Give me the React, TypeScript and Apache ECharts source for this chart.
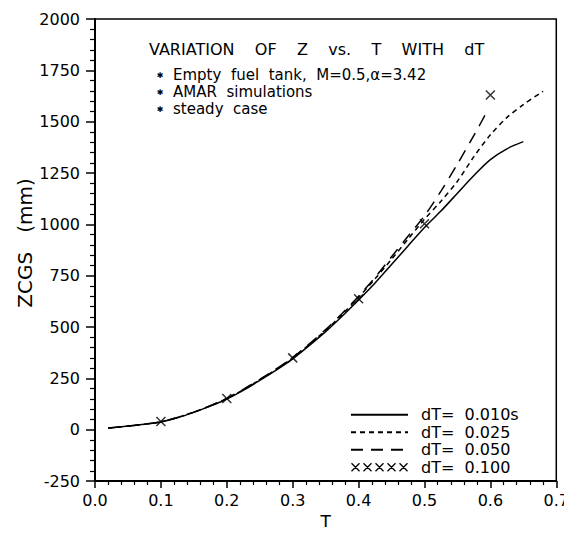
import React, { useEffect, useRef } from "react";
import * as echarts from "echarts";

// dT = 0.010 s (solid)
const solidT = [0.02, 0.05, 0.075, 0.1, 0.125, 0.15, 0.175, 0.2, 0.225, 0.25, 0.275, 0.3, 0.325, 0.35, 0.375, 0.4, 0.425, 0.45, 0.475, 0.5, 0.525, 0.55, 0.575, 0.6, 0.625, 0.65];
const solidZ = [8, 18, 27, 38, 58, 85, 115, 150, 192, 240, 290, 345, 410, 478, 553, 632, 715, 805, 895, 985, 1065, 1152, 1238, 1315, 1368, 1403];

// dT = 0.025 (short dashes)
const dt025T = [0.02, 0.05, 0.1, 0.15, 0.2, 0.25, 0.3, 0.35, 0.375, 0.4, 0.425, 0.45, 0.475, 0.5, 0.525, 0.55, 0.575, 0.6, 0.625, 0.65, 0.68];
const dt025Z = [8, 18, 39, 86, 152, 243, 350, 484, 562, 645, 735, 830, 928, 1025, 1113, 1210, 1330, 1436, 1520, 1583, 1648];

// dT = 0.050 (long dashes)
const dt050T = [0.02, 0.05, 0.1, 0.15, 0.2, 0.25, 0.3, 0.35, 0.375, 0.4, 0.425, 0.45, 0.475, 0.5, 0.525, 0.55, 0.575, 0.597];
const dt050Z = [8, 18, 39, 86, 153, 245, 352, 488, 566, 650, 742, 842, 942, 1042, 1162, 1294, 1433, 1562];

// dT = 0.100 (x markers)
const dt100T = [0.1, 0.2, 0.3, 0.4, 0.5, 0.6];
const dt100Z = [40, 152, 350, 638, 1003, 1630];

const legendNames = ["dT=  0.010s", "dT=  0.025", "dT=  0.050", "dT=  0.100"];
const titleText = "VARIATION    OF    Z    vs.    T    WITH    dT";
const noteLines = ["Empty  fuel  tank,  M=0.5,\u03b1=3.42", "AMAR  simulations", "steady  case"];
const yName = "ZCGS   (mm)";
const xName = "T";

const FONT = "DejaVu Sans";
const X_PATH = "path://M0,0L10,10M10,0L0,10";
const XXXXX_PATH = "path://M0,0L8,8M8,0L0,8M12,0L20,8M20,0L12,8M24,0L32,8M32,0L24,8M36,0L44,8M44,0L36,8M48,0L56,8M56,0L48,8";

const pairs = (t: number[], z: number[]) => t.map((v, i) => [v, z[i]]);

export default function App() {
  const ref = useRef<HTMLDivElement>(null);
  useEffect(() => {
    if (!ref.current) return;
    const chart = echarts.init(ref.current, null, { renderer: "svg" });
    const axisCommon = {
      axisLine: { show: true, onZero: false, lineStyle: { color: "#000", width: 2 } },
      splitLine: { show: false },
    };
    chart.setOption({
      animation: false,
      textStyle: { fontFamily: FONT },
      grid: { left: 95, right: 10, top: 19, bottom: 47, show: true, borderColor: "#000", borderWidth: 1.5 },
      xAxis: {
        type: "value",
        min: 0,
        max: 0.7,
        interval: 0.1,
        name: xName,
        nameLocation: "middle",
        nameGap: 26,
        nameTextStyle: { fontSize: 17, color: "#000", fontFamily: FONT },
        ...axisCommon,
        axisTick: { show: true, length: 7, lineStyle: { color: "#000", width: 1.5 } },
        minorTick: { show: true, splitNumber: 5, length: 4, lineStyle: { color: "#000", width: 1.2 } },
        axisLabel: { color: "#000", fontSize: 16, margin: 11, fontFamily: FONT, formatter: (v: number) => v.toFixed(1) },
      },
      yAxis: {
        type: "value",
        min: -250,
        max: 2000,
        interval: 250,
        ...axisCommon,
        axisTick: { show: true, length: 9, lineStyle: { color: "#000", width: 1.5 } },
        minorTick: { show: true, splitNumber: 5, length: 5, lineStyle: { color: "#000", width: 1.2 } },
        axisLabel: { color: "#000", fontSize: 16, margin: 15, fontFamily: FONT, formatter: (v: number) => String(v) },
      },
      legend: {
        orient: "vertical",
        left: 344,
        top: 401,
        itemWidth: 57,
        itemHeight: 8,
        itemGap: 0,
        selectedMode: false,
        itemStyle: { opacity: 0 },
        textStyle: { fontSize: 16, color: "#000", fontFamily: FONT, lineHeight: 17.5, padding: [0, 0, 0, 8] },
        data: [
          { name: legendNames[0] },
          { name: legendNames[1] },
          { name: legendNames[2] },
          { name: legendNames[3], icon: XXXXX_PATH, itemStyle: { opacity: 1, color: "none", borderColor: "#000", borderWidth: 1.3 } },
        ],
      },
      series: [
        {
          name: legendNames[0],
          type: "line",
          data: pairs(solidT, solidZ),
          smooth: 0.3,
          symbol: "none",
          lineStyle: { color: "#000", width: 1.5, type: "solid" },
          itemStyle: { color: "#000" },
        },
        {
          name: legendNames[1],
          type: "line",
          data: pairs(dt025T, dt025Z),
          smooth: 0.3,
          symbol: "none",
          lineStyle: { color: "#000", width: 1.5, type: [5, 4] },
          itemStyle: { color: "#000" },
        },
        {
          name: legendNames[2],
          type: "line",
          data: pairs(dt050T, dt050Z),
          smooth: 0.3,
          symbol: "none",
          lineStyle: { color: "#000", width: 1.5, type: [12, 8] },
          itemStyle: { color: "#000" },
        },
        {
          name: legendNames[3],
          type: "scatter",
          data: pairs(dt100T, dt100Z),
          symbol: X_PATH,
          symbolSize: 9,
          itemStyle: { color: "none", borderColor: "#000", borderWidth: 1.5 },
          z: 5,
        },
      ],
      graphic: [
        {
          type: "text",
          x: 149,
          y: 49,
          style: { text: titleText, fontSize: 16, fontFamily: FONT, fill: "#000", verticalAlign: "middle" },
        },
        ...noteLines.map((t, i) => ({
          type: "group",
          children: [
            {
              type: "text",
              x: 160,
              y: 75 + i * 17,
              style: { text: "\u2731", fontSize: 8, fontFamily: FONT, fill: "#000", align: "center", verticalAlign: "middle" },
            },
            {
              type: "text",
              x: 173,
              y: 75 + i * 17,
              style: { text: t, fontSize: 15, fontFamily: FONT, fill: "#000", verticalAlign: "middle" },
            },
          ],
        })),
        {
          type: "text",
          x: 25,
          y: 243,
          rotation: Math.PI / 2,
          style: { text: yName, fontSize: 20, fontFamily: FONT, fill: "#000", align: "center", verticalAlign: "middle" },
        },
      ],
    });
    return () => chart.dispose();
  }, []);
  return <div ref={ref} style={{ width: 572, height: 535, margin: -8 }} />;
}
